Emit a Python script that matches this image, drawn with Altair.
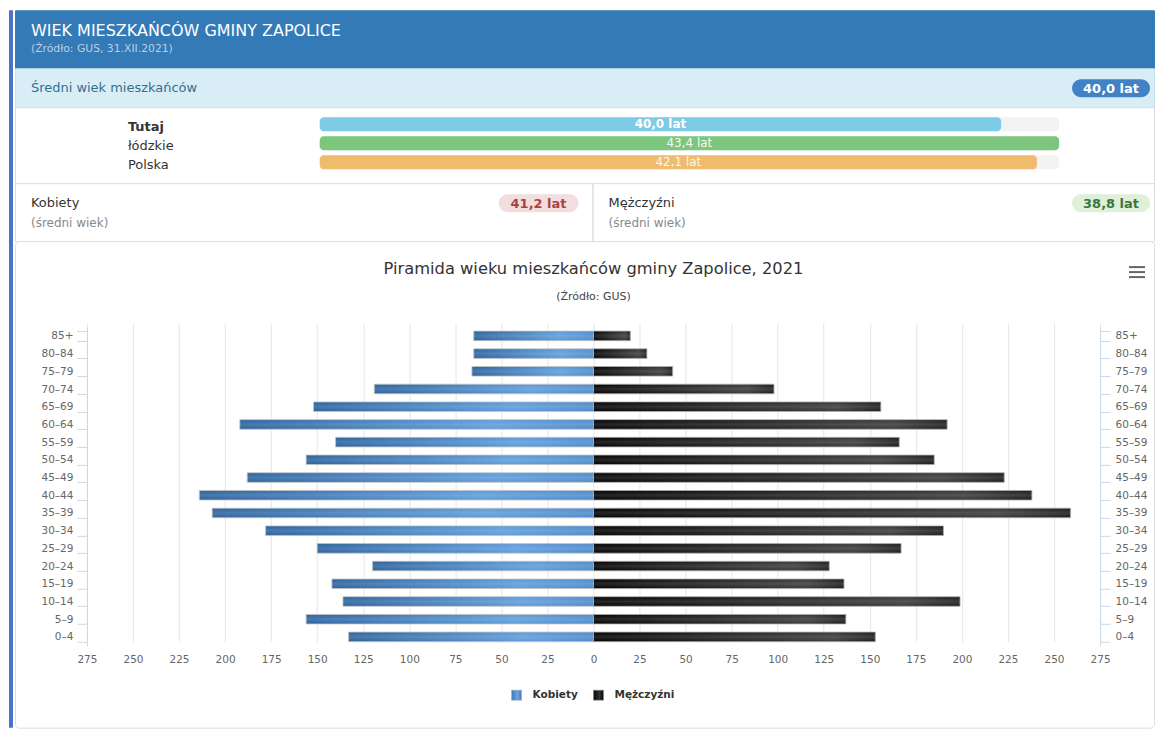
import altair as alt
import pandas as pd

FONT = "DejaVu Sans"

# ---------------- data ----------------
age_groups = ["85+", "80–84", "75–79", "70–74", "65–69", "60–64", "55–59", "50–54", "45–49",
              "40–44", "35–39", "30–34", "25–29", "20–24", "15–19", "10–14", "5–9", "0–4"]
kobiety = [65, 65, 66, 119, 152, 192, 140, 156, 188, 214, 207, 178, 150, 120, 142, 136, 156, 133]
mezczyzni = [20, 29, 43, 98, 156, 192, 166, 185, 223, 238, 259, 190, 167, 128, 136, 199, 137, 153]
series_names = ["Kobiety", "Mężczyźni"]
axis_ticks = list(range(-275, 276, 25))

compare_names = ["Tutaj", "łódzkie", "Polska"]
compare_values = [40.0, 43.4, 42.1]
compare_colors = ["#7ecbe5", "#7cc67d", "#f1bb6e"]

mean_all = 40.0
mean_women = 41.2
mean_men = 38.8

header_title = "WIEK MIESZKAŃCÓW GMINY ZAPOLICE"
header_source = "(Źródło: GUS, 31.XII.2021)"
info_label = "Średni wiek mieszkańców"
chart_title = "Piramida wieku mieszkańców gminy Zapolice, 2021"
chart_subtitle = "(Źródło: GUS)"

W = 1140
H_HEADER, H_INFO, H_BARS, H_SEX, H_PYR = 58, 39, 76, 58, 487


def fmt(v):
    return f"{v:.1f}".replace(".", ",") + " lat"


def text_layer(text, x, y, size, color, weight="normal", align="center", font=FONT):
    return alt.Chart(alt.Data(values=[{"t": text}])).mark_text(
        align=align, baseline="middle", fontSize=size, color=color, fontWeight=weight, font=font
    ).encode(x=alt.value(x), y=alt.value(y), text="t:N")


def box(x0, x1, y0, y1, fill, radius=0, stroke="transparent"):
    return alt.Chart(alt.Data(values=[{"a": 1}])).mark_rect(
        cornerRadius=radius, fill=fill, stroke=stroke, strokeWidth=0.6).encode(
        x=alt.value(x0), x2=alt.value(x1), y=alt.value(y0), y2=alt.value(y1))


def badge(text, x0, x1, y0, y1, fill, color):
    return [box(x0, x1, y0, y1, fill, radius=9),
            text_layer(text, (x0 + x1) / 2, (y0 + y1) / 2 + 0.5, 13, color, weight="bold")]


def hline(x0, x1, y, color, width):
    return alt.Chart(alt.Data(values=[{"a": 1}])).mark_rule(color=color, strokeWidth=width).encode(
        x=alt.value(x0), x2=alt.value(x1), y=alt.value(y))


def panel_view(fill, stroke, radius=0):
    return alt.ViewBackground(fill=fill, stroke=stroke, strokeWidth=1, cornerRadius=radius)


# ---------------- header ----------------
header = alt.layer(
    text_layer(header_title, 16, 21, 16, "white", align="left"),
    text_layer(header_source, 16, 39, 10.8, "#b9cfe6", align="left"),
).properties(width=W, height=H_HEADER, view=panel_view("#337ab7", "#337ab7"))

# ---------------- info band ----------------
info = alt.layer(
    text_layer(info_label, 16, 20, 13, "#31708f", align="left"),
    *badge(fmt(mean_all), 1058, 1136, 11, 29, "#3f82c6", "white"),
).properties(width=W, height=H_INFO, view=panel_view("#d9edf7", "#c8e4f0"))

# ---------------- comparison bars ----------------
cmp_df = pd.DataFrame({"name": compare_names, "value": compare_values,
                       "label": [fmt(v) for v in compare_values]})
cmp_df["full"] = max(compare_values)
xs = alt.Scale(domain=[0, max(compare_values)], range=[305, 1045], nice=False)
ys = alt.Scale(domain=compare_names, range=[10, 62], paddingInner=0.263, paddingOuter=0)
Yc = alt.Y("name:N", scale=ys, axis=None)
cbase = alt.Chart(cmp_df)
track = cbase.mark_bar(cornerRadius=4, color="#f3f3f3").encode(
    x=alt.X("full:Q", scale=xs, axis=None, stack=None), y=Yc)
fillbar = cbase.mark_bar(cornerRadius=4).encode(
    x=alt.X("value:Q", scale=xs, axis=None, stack=None), y=Yc,
    color=alt.Color("name:N", scale=alt.Scale(domain=compare_names, range=compare_colors), legend=None))
vtext_b = cbase.transform_filter(alt.datum.name == compare_names[0]).transform_calculate(
    mid="datum.value / 2").mark_text(color="white", fontSize=12, fontWeight="bold", font=FONT).encode(
    x=alt.X("mid:Q", scale=xs, axis=None), y=Yc, text="label:N")
vtext = cbase.transform_filter(alt.datum.name != compare_names[0]).transform_calculate(
    mid="datum.value / 2").mark_text(color="#f7f7f7", fontSize=12, font=FONT).encode(
    x=alt.X("mid:Q", scale=xs, axis=None), y=Yc, text="label:N")
lbl_b = cbase.transform_filter(alt.datum.name == compare_names[0]).mark_text(
    align="left", dy=2.5, fontSize=13, color="#333333", fontWeight="bold", font=FONT).encode(
    x=alt.value(113), y=Yc, text="name:N")
lbl = cbase.transform_filter(alt.datum.name != compare_names[0]).mark_text(
    align="left", dy=2.5, fontSize=13, color="#333333", font=FONT).encode(
    x=alt.value(113), y=Yc, text="name:N")
bars_panel = alt.layer(track, fillbar, vtext_b, vtext, lbl_b, lbl).properties(
    width=W, height=H_BARS, view=panel_view("white", "#dddddd"))

# ---------------- women / men ----------------
divider = alt.Chart(alt.Data(values=[{"a": 1}])).mark_rule(color="#dddddd", strokeWidth=1.5).encode(
    x=alt.value(578.5), y=alt.value(0), y2=alt.value(H_SEX))
sex_panel = alt.layer(
    text_layer("Kobiety", 16, 20, 13, "#333333", align="left"),
    text_layer("(średni wiek)", 16, 40, 12, "#888888", align="left"),
    *badge(fmt(mean_women), 484, 564, 11, 29, "#f2dede", "#a94442"),
    divider,
    text_layer("Mężczyźni", 594, 20, 13, "#333333", align="left"),
    text_layer("(średni wiek)", 594, 40, 12, "#888888", align="left"),
    *badge(fmt(mean_men), 1058, 1136, 11, 29, "#dff0d8", "#3c763d"),
).properties(width=W, height=H_SEX, view=panel_view("white", "#dddddd"))

# ---------------- pyramid ----------------
rows = []
for a, k, m in zip(age_groups, kobiety, mezczyzni):
    rows.append({"age": a, "sex": series_names[0], "v": -k})
    rows.append({"age": a, "sex": series_names[1], "v": m})
pyr_df = pd.DataFrame(rows)

px = alt.Scale(domain=[-275, 275], range=[72, 1086], nice=False, zero=False)
py = alt.Scale(domain=age_groups, range=[86, 405], paddingInner=0.46, paddingOuter=0.23)

x_axis = alt.Axis(values=axis_ticks, labelExpr="'' + abs(datum.value)", grid=True, gridColor="#e6e6e6",
                  gridWidth=1, domain=False, ticks=False, tickSize=0, labelFontSize=10.5,
                  labelColor="#666666", labelPadding=9, offset=-(H_PYR - 405), title=None,
                  labelFont=FONT, labelFlush=False)
X = alt.X("v:Q", scale=px, axis=x_axis)

y_left = alt.Axis(orient="left", offset=-72, domainColor="#ccd6eb", tickColor="#ccd6eb", tickSize=10,
                  tickBand="extent", labelPadding=4, labelFontSize=10.5, labelColor="#666666",
                  title=None, grid=False, labelFont=FONT)
y_right = alt.Axis(orient="right", offset=-(W - 1086), domainColor="#ccd6eb", tickColor="#ccd6eb",
                   tickSize=10, tickBand="extent", labelPadding=5, labelFontSize=10.5,
                   labelColor="#666666", title=None, grid=False, labelFont=FONT)

grad_f = alt.Gradient(gradient="linear", x1=0, x2=1, y1=0, y2=0, stops=[
    alt.GradientStop(color="#2b629d", offset=0),
    alt.GradientStop(color="#5d9cda", offset=0.72),
    alt.GradientStop(color="#4d8bcc", offset=1)])
grad_m = alt.Gradient(gradient="linear", x1=0, x2=1, y1=0, y2=0, stops=[
    alt.GradientStop(color="#020202", offset=0),
    alt.GradientStop(color="#3a3a3a", offset=0.85),
    alt.GradientStop(color="#1c1c1c", offset=1)])
shine = alt.Gradient(gradient="linear", x1=0, x2=0, y1=0, y2=1, stops=[
    alt.GradientStop(color="rgba(255,255,255,0)", offset=0),
    alt.GradientStop(color="rgba(255,255,255,0.14)", offset=0.5),
    alt.GradientStop(color="rgba(255,255,255,0)", offset=1)])
sym_f = alt.Gradient(gradient="linear", x1=0, x2=1, y1=0, y2=0, stops=[
    alt.GradientStop(color="#3f78b8", offset=0),
    alt.GradientStop(color="#6aa6e0", offset=0.6),
    alt.GradientStop(color="#3f78b8", offset=1)])
sym_m = alt.Gradient(gradient="linear", x1=0, x2=1, y1=0, y2=0, stops=[
    alt.GradientStop(color="#050505", offset=0),
    alt.GradientStop(color="#333333", offset=0.6),
    alt.GradientStop(color="#050505", offset=1)])

pbase = alt.Chart(pyr_df)
bars_f = pbase.transform_filter(alt.datum.sex == series_names[0]).mark_bar(
    color=grad_f, stroke="#c4c4c4", strokeWidth=0.8).encode(
    x=X, x2=alt.datum(0), y=alt.Y("age:N", scale=py, axis=y_left))
bars_m = pbase.transform_filter(alt.datum.sex == series_names[1]).mark_bar(
    color=grad_m, stroke="#b0b0b0", strokeWidth=0.8).encode(
    x=X, x2=alt.datum(0), y=alt.Y("age:N", scale=py, axis=y_right))
bars_shine = pbase.mark_bar(color=shine).encode(
    x=X, x2=alt.datum(0), y=alt.Y("age:N", scale=py, axis=None))

legend_layers = [
    box(497, 507, 449.5, 459.5, sym_f, stroke="#9ab"),
    text_layer(series_names[0], 518, 454.5, 10.5, "#333333", weight="bold", align="left"),
    box(579, 589, 449.5, 459.5, sym_m, stroke="#888"),
    text_layer(series_names[1], 600, 454.5, 10.5, "#333333", weight="bold", align="left"),
]

pyramid = alt.layer(
    bars_f, bars_m, bars_shine,
    text_layer(chart_title, 579, 28, 16.3, "#333333"),
    text_layer(chart_subtitle, 579, 56, 11, "#444444"),
    hline(1115, 1131, 26, "#666666", 2),
    hline(1115, 1131, 31, "#666666", 2),
    hline(1115, 1131, 36, "#666666", 2),
    *legend_layers,
).resolve_axis(y="independent").properties(
    width=W, height=H_PYR, view=panel_view("white", "#dddddd", radius=4))

# ---------------- assemble ----------------
H_TOTAL = H_HEADER + H_INFO + H_BARS + H_SEX + H_PYR
strip = alt.Chart(alt.Data(values=[{"a": 1}])).mark_rect(color="#4a72c9").encode(
    x=alt.value(0), x2=alt.value(4), y=alt.value(0), y2=alt.value(H_TOTAL)
).properties(width=4, height=H_TOTAL)

column = alt.vconcat(header, info, bars_panel, sex_panel, pyramid, spacing=0, bounds="flush")

chart = alt.hconcat(strip, column, spacing=2, bounds="flush").properties(
    padding={"left": 1, "top": 1, "right": 0, "bottom": 0}, background="white"
).configure(font=FONT).configure_view(strokeWidth=0)

chart.save("out.html", embed_options={"renderer": "svg", "actions": False})
